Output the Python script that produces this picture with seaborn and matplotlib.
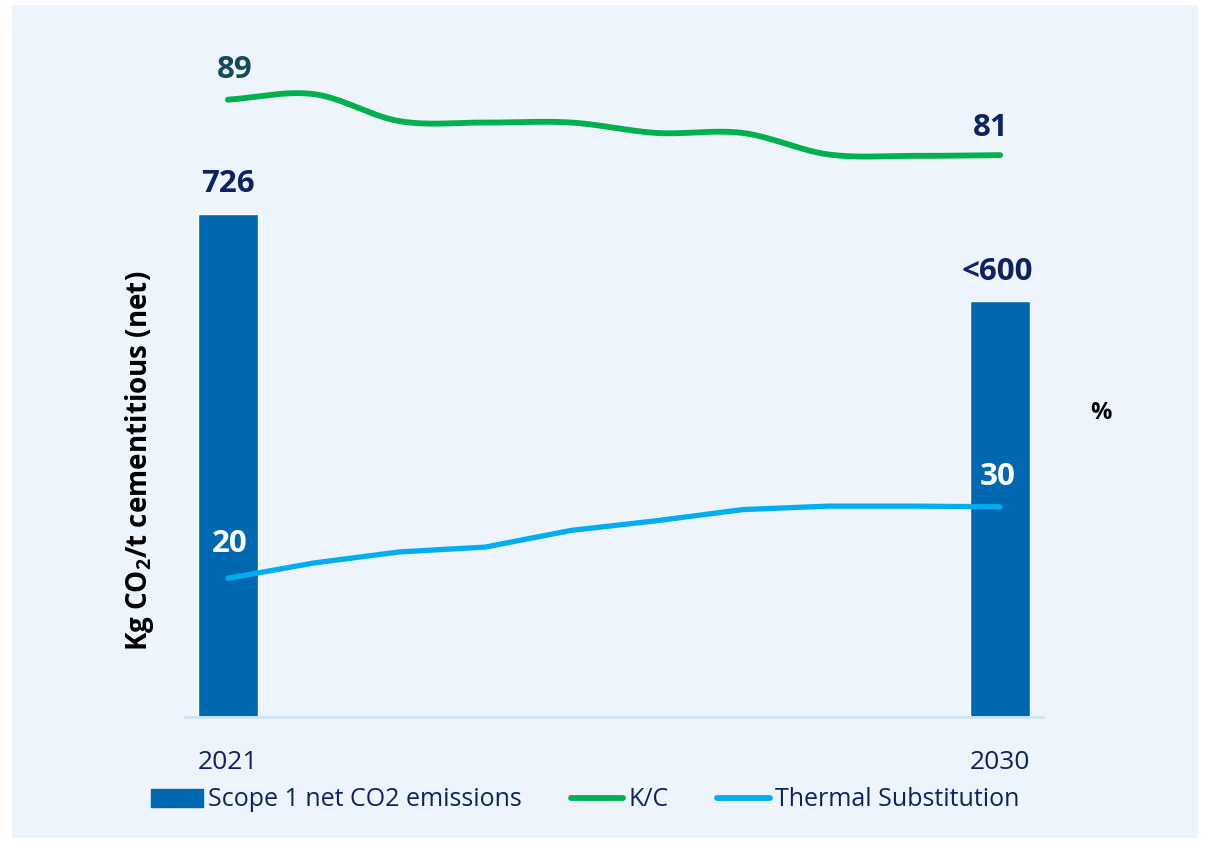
import numpy as np
import pandas as pd
import matplotlib
matplotlib.use("Agg")
import matplotlib.pyplot as plt
import seaborn as sns
from matplotlib.patches import Rectangle, Patch
from matplotlib.lines import Line2D

# data
years = ["2021", "2022", "2023", "2024", "2025", "2026", "2027", "2028", "2029", "2030"]
emissions = [726, np.nan, np.nan, np.nan, np.nan, np.nan, np.nan, np.nan, np.nan, 600]
bar_labels = ["726", "<600"]
kc = [89.0, 89.8, 85.9, 85.7, 85.7, 84.2, 84.2, 81.1, 80.9, 81.0]
thermal = [20.0, 22.2, 23.8, 24.5, 26.9, 28.3, 29.9, 30.4, 30.4, 30.3]
legend_labels = ["Scope 1 net CO2 emissions", "K/C", "Thermal Substitution"]

BAR = "#0068B1"
GREEN = "#00B04F"
LIGHT = "#00AEEF"
NAVY = "#0D2260"
TEAL = "#17495B"
PANEL = "#EDF4FB"

sns.set_style("white")
plt.rcParams["font.family"] = ["Open Sans", "DejaVu Sans"]
plt.rcParams["mathtext.fontset"] = "custom"
plt.rcParams["mathtext.rm"] = "Open Sans"
plt.rcParams["mathtext.bf"] = "Open Sans:bold"

W, H = 1207, 842
fig = plt.figure(figsize=(W / 100, H / 100), dpi=100)
fig.patch.set_facecolor("white")
fig.add_artist(Rectangle((12 / W, 1 - 838 / H), 1186 / W, 833 / H,
                         transform=fig.transFigure, facecolor=PANEL,
                         edgecolor="none", zorder=-1))

ax = fig.add_axes([185 / W, 1 - 717 / H, 858 / W, 677 / H])
ax.set_facecolor("none")

df = pd.DataFrame({"year": years, "emissions": emissions}).dropna()
sns.barplot(data=df, x="year", y="emissions", order=years, color=BAR,
            saturation=1, width=0.7, errorbar=None, ax=ax)
ax.set_xlim(-0.5, 9.5)
ax.set_ylim(0, 977)

for sp in ["top", "left", "right"]:
    ax.spines[sp].set_visible(False)
ax.spines["bottom"].set_color("#CBE6F3")
ax.spines["bottom"].set_linewidth(2)
ax.set_yticks([])
ax.set_xlabel("")
ax.set_ylabel("")
ax.set_xticks(range(len(years)))
ax.set_xticklabels([y if i in (0, len(years) - 1) else "" for i, y in enumerate(years)])
ax.tick_params(axis="x", length=0, pad=24, labelsize=19, labelcolor=NAVY)

ax2 = ax.twinx()
ax2.set_facecolor("none")
ax2.set_ylim(0, 97.6)
ax2.set_yticks([])
for sp in ax2.spines.values():
    sp.set_visible(False)

xs = np.arange(len(years))
sns.lineplot(x=xs, y=thermal, ax=ax2, color=LIGHT, linewidth=3.8,
             solid_capstyle="round", legend=False)

# smoothed K/C line (Catmull-Rom through the points, like an Excel smooth line)
p = np.array(kc)
px = np.concatenate([[xs[0] - 1], xs, [xs[-1] + 1]])
py = np.concatenate([[2 * p[0] - p[1]], p, [2 * p[-1] - p[-2]]])
cx, cy = [], []
t = np.linspace(0, 1, 30)
for i in range(1, len(px) - 2):
    for arr, out in ((px, cx), (py, cy)):
        p0, p1, p2, p3 = arr[i - 1], arr[i], arr[i + 1], arr[i + 2]
        out.extend(0.5 * (2 * p1 + (-p0 + p2) * t + (2 * p0 - 5 * p1 + 4 * p2 - p3) * t ** 2
                          + (-p0 + 3 * p1 - 3 * p2 + p3) * t ** 3))
ax2.plot(cx, cy, color=GREEN, linewidth=4.2, solid_capstyle="round")

# value labels
lab = dict(ha="center", va="center", fontsize=22.5, fontweight="bold",
           textcoords="offset points")
ax.annotate(bar_labels[0], (0, emissions[0]), xytext=(0, 21.5), color=NAVY, **lab)
ax.annotate(bar_labels[1], (9, emissions[-1]), xytext=(-2, 21), color=NAVY, **lab)
ax2.annotate(f"{kc[0]:.0f}", (0, kc[0]), xytext=(5, 21), color=TEAL, **lab)
ax2.annotate(f"{kc[-1]:.0f}", (9, kc[-1]), xytext=(-7, 19.5), color=NAVY, **lab)
ax2.annotate(f"{thermal[0]:.0f}", (0, thermal[0]), xytext=(1, 24.5), color="white", **lab)
ax2.annotate(f"{thermal[-1]:.0f}", (9, thermal[-1]), xytext=(-2, 21.5), color="white", **lab)

fig.text(140 / W, 1 - 461 / H, r"Kg CO$_\mathbf{2}$/t cementitious (net)",
         rotation=90, ha="center", va="center", fontsize=20, fontweight="bold",
         color="black")
fig.text(1101 / W, 1 - 413 / H, "%", ha="center", va="center", fontsize=17,
         fontweight="bold", color="black")

handles = [Patch(color=BAR),
           Line2D([], [], color=GREEN, linewidth=4.2, solid_capstyle="round"),
           Line2D([], [], color=LIGHT, linewidth=4.2, solid_capstyle="round")]
fig.legend(handles, legend_labels, loc="center", bbox_to_anchor=(585 / W, 1 - 800 / H),
           ncol=3, frameon=False, fontsize=18, handlelength=2.1, handletextpad=0.2,
           columnspacing=1.95, labelcolor=NAVY)

fig.savefig("out.png", dpi=100)
